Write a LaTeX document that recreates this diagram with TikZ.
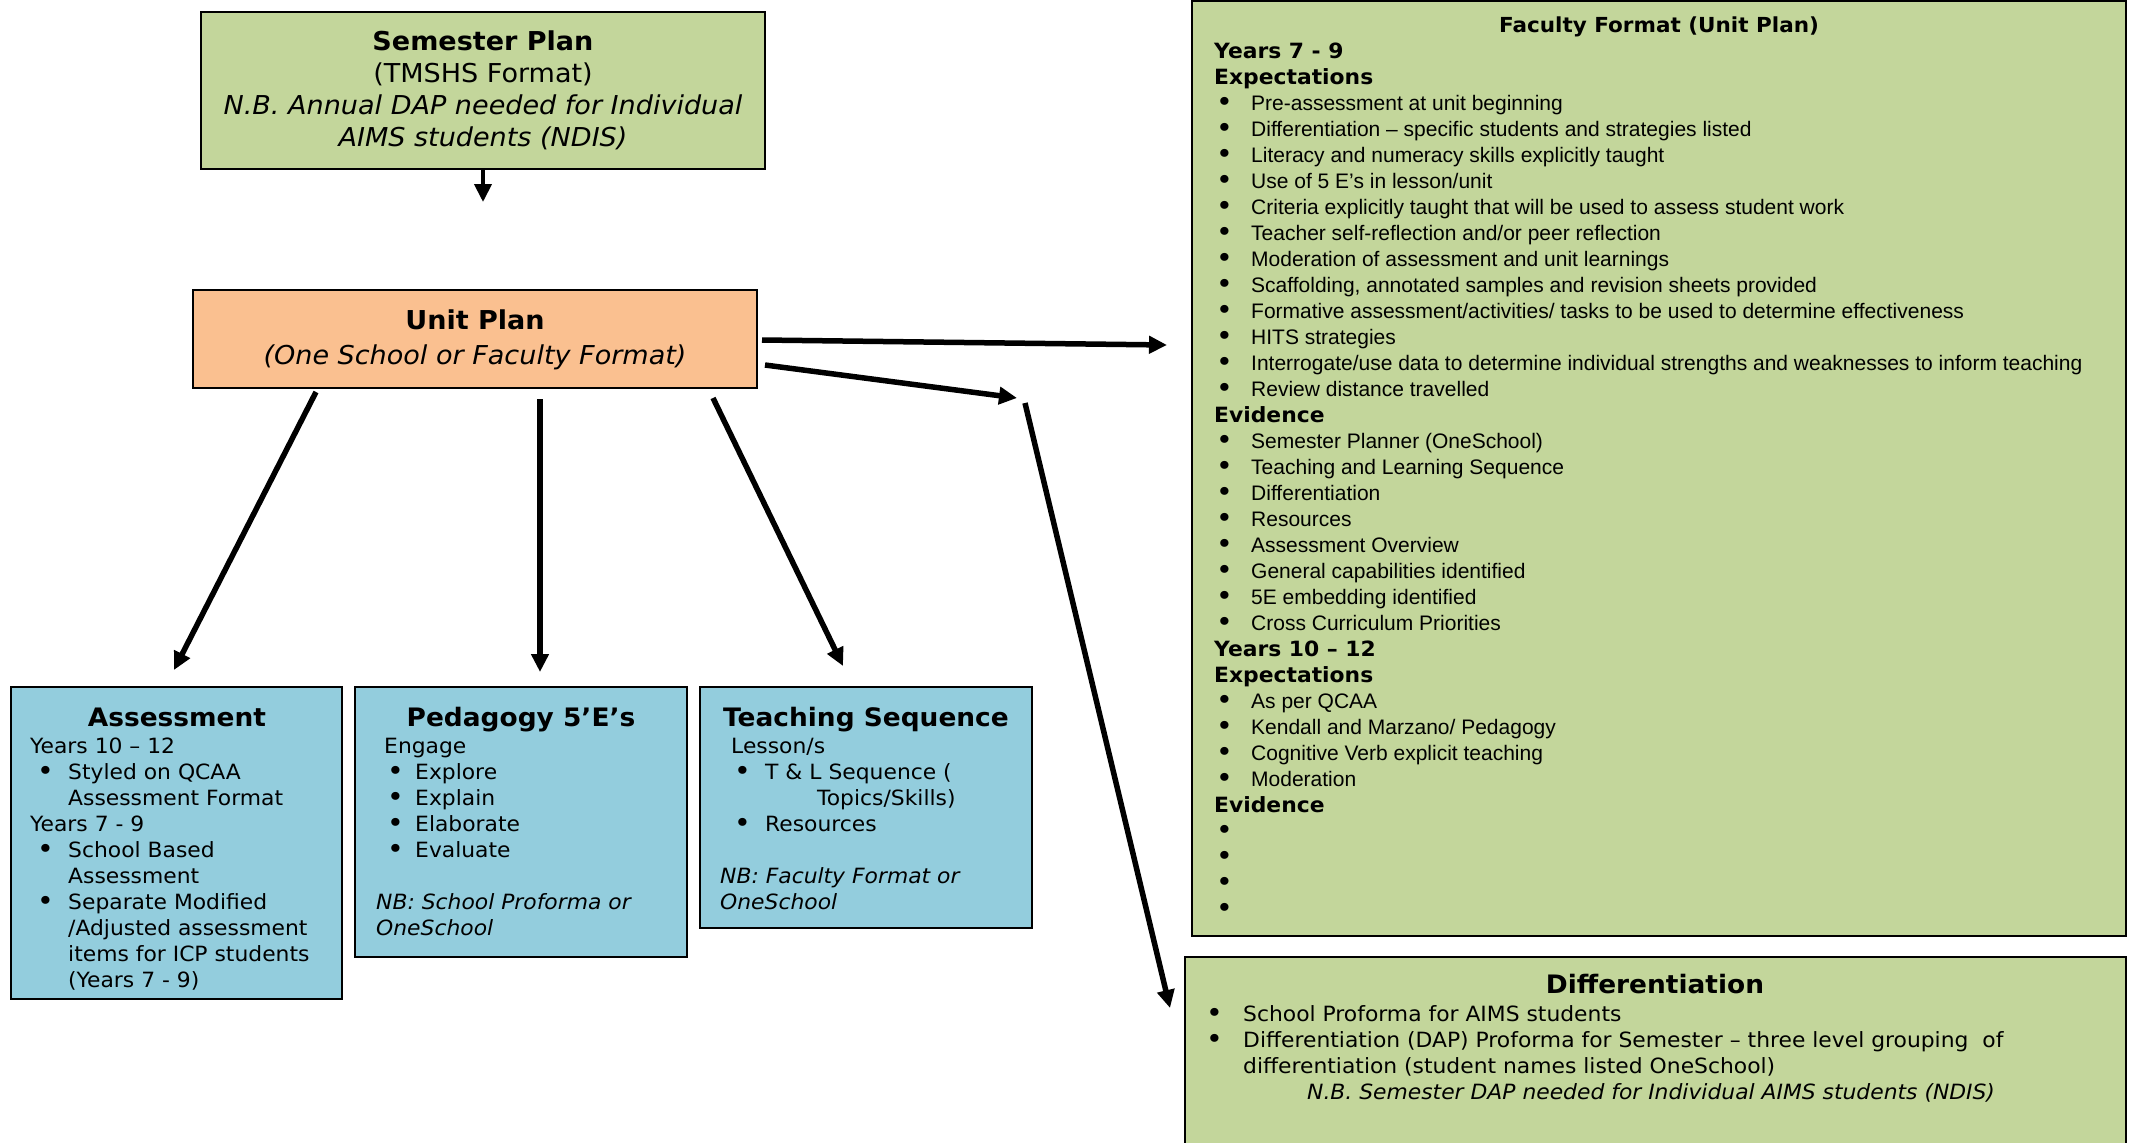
\documentclass[tikz,border=0pt]{standalone}
\usepackage{fontspec}
\setmainfont[FakeStretch=1.04]{DejaVu Sans}
\newfontfamily\arialfont{Liberation Sans}
\usetikzlibrary{arrows.meta}
\definecolor{boxgreen}{HTML}{C3D69B}
\definecolor{boxorange}{HTML}{FAC090}
\definecolor{boxblue}{HTML}{93CDDD}
% bullet with offset and width of the bullet column
\newcommand{\bl}[2]{\hspace*{#1pt}\makebox[#2pt][l]{\raisebox{-0.04em}{\scalebox{1.3}{\textbullet}}}}
\newcommand{\fitem}[1]{\bl{2}{35}{\arialfont #1}}
\begin{document}
\begin{tikzpicture}[x=1pt, y=-1pt,
    box/.style={draw=black, line width=2pt, inner sep=0pt, outer sep=0pt, anchor=north west},
    title/.style={font=\fontsize{25.4}{32}\selectfont\bfseries, anchor=base, inner sep=0pt},
    body/.style={font=\fontsize{21}{26}\selectfont, align=left, anchor=north west, inner sep=0pt},
    arr/.style={line width=5.5pt, -{Triangle[length=18pt, width=17pt]}}]
  \useasboundingbox (0,0) rectangle (2134,1143);

  % Define nodes
  \node[box, fill=boxgreen, minimum width=564pt, minimum height=157pt] (sem) at (201,12) {};
  \node[font=\fontsize{26}{32}\selectfont, align=center, anchor=north, inner sep=0pt] (semText) at (483,27.6)
    {\strut\textbf{Semester Plan}\\(TMSHS Format)\\\textit{N.B. Annual DAP needed for Individual}\\\textit{AIMS students (NDIS)}};

  \node[box, fill=boxorange, minimum width=564pt, minimum height=98pt] (unit) at (193,290) {};
  \node[font=\fontsize{26}{35}\selectfont, align=center, anchor=north, inner sep=0pt] (unitText) at (475,304.5)
    {\strut\textbf{Unit Plan}\\\textit{(One School or Faculty Format)}};

  \node[box, fill=boxblue, minimum width=331pt, minimum height=312pt] (assess) at (11,687) {};
  \node[title] (assessTitle) at (177,726) {Assessment};
  \node[body] (assessText) at (30,734.8)
    {\strut Years 10 – 12\\
     \bl{7}{31}Styled on QCAA\\
     \hspace*{38pt}Assessment Format\\
     Years 7 - 9\\
     \bl{7}{31}School Based\\
     \hspace*{38pt}Assessment\\
     \bl{7}{31}Separate Modified\\
     \hspace*{38pt}/Adjusted assessment\\
     \hspace*{38pt}items for ICP students\\
     \hspace*{38pt}(Years 7 - 9)};

  \node[box, fill=boxblue, minimum width=332pt, minimum height=270pt] (peda) at (355,687) {};
  \node[title] (pedaTitle) at (521,726) {Pedagogy 5’E’s};
  \node[body] (pedaText) at (376,734.8)
    {\strut\hspace*{8pt}Engage\\
     \bl{11}{28}Explore\\
     \bl{11}{28}Explain\\
     \bl{11}{28}Elaborate\\
     \bl{11}{28}Evaluate\\
     \mbox{}\\
     \textit{NB: School Proforma or}\\
     \textit{OneSchool}};

  \node[box, fill=boxblue, minimum width=332pt, minimum height=241pt] (teach) at (700,687) {};
  \node[title] (teachTitle) at (866,726) {Teaching Sequence};
  \node[body] (teachText) at (720,734.8)
    {\strut\hspace*{11pt}Lesson/s\\
     \bl{14}{31}T \& L Sequence (\\
     \hspace*{97pt}Topics/Skills)\\
     \bl{14}{31}Resources\\
     \mbox{}\\
     \textit{NB: Faculty Format or}\\
     \textit{OneSchool}};

  \node[box, fill=boxgreen, minimum width=934pt, minimum height=935pt] (fac) at (1192,1) {};
  \node[title, font=\fontsize{20.7}{26}\selectfont\bfseries] (facTitle) at (1659,32) {Faculty Format (Unit Plan)};
  \node[body] (facText) at (1214,40.3)
    {\strut\textbf{Years 7 - 9}\\
     \textbf{Expectations}\\
     \fitem{Pre-assessment at unit beginning}\\
     \fitem{Differentiation – specific students and strategies listed}\\
     \fitem{Literacy and numeracy skills explicitly taught}\\
     \fitem{Use of 5 E’s in lesson/unit}\\
     \fitem{Criteria explicitly taught that will be used to assess student work}\\
     \fitem{Teacher self-reflection and/or peer reflection}\\
     \fitem{Moderation of assessment and unit learnings}\\
     \fitem{Scaffolding, annotated samples and revision sheets provided}\\
     \fitem{Formative assessment/activities/ tasks to be used to determine effectiveness}\\
     \fitem{HITS strategies}\\
     \fitem{Interrogate/use data to determine individual strengths and weaknesses to inform teaching}\\
     \fitem{Review distance travelled}\\
     \textbf{Evidence}\\
     \fitem{Semester Planner (OneSchool)}\\
     \fitem{Teaching and Learning Sequence}\\
     \fitem{Differentiation}\\
     \fitem{Resources}\\
     \fitem{Assessment Overview}\\
     \fitem{General capabilities identified}\\
     \fitem{5E embedding identified}\\
     \fitem{Cross Curriculum Priorities}\\
     \textbf{Years 10 – 12}\\
     \textbf{Expectations}\\
     \fitem{As per QCAA}\\
     \fitem{Kendall and Marzano/ Pedagogy}\\
     \fitem{Cognitive Verb explicit teaching}\\
     \fitem{Moderation}\\
     \textbf{Evidence}\\
     \fitem{}\\
     \fitem{}\\
     \fitem{}\\
     \fitem{}};

  \node[box, fill=boxgreen, minimum width=941pt, minimum height=210pt] (diff) at (1185,957) {};
  \node[title] (diffTitle) at (1655,993) {Differentiation};
  \node[body] (diffText) at (1206,1002.8)
    {\strut\bl{0}{37}School Proforma for AIMS students\\
     \bl{0}{37}Differentiation (DAP) Proforma for Semester – three level grouping\ \ of\\
     \hspace*{37pt}differentiation (student names listed OneSchool)\\
     \hspace*{101pt}\textit{N.B. Semester DAP needed for Individual AIMS students (NDIS)}};

  % Free ends of the arrows
  \coordinate (semTip) at (483,202);
  \coordinate (facTip) at (1167,345);
  \coordinate (midTip) at (1017,398);
  \coordinate (diffTip) at (1170,1008);
  \coordinate (assessTip) at (174,670);
  \coordinate (pedaTip) at (540,672);
  \coordinate (teachTip) at (843,666);

  % Connect nodes with arrows
  \draw[arr, line width=4pt] (sem.south) -- (semTip);
  \draw[arr] ([shift={(5,1)}]unit.east) -- (facTip);
  \draw[arr] ([shift={(8,26)}]unit.east) -- (midTip);
  \draw[arr] ([shift={(8,5)}]midTip) -- (diffTip);
  \draw[arr] ([shift={(-159,4)}]unit.south) -- (assessTip);
  \draw[arr] ([shift={(65,11)}]unit.south) -- (pedaTip);
  \draw[arr] ([shift={(238,10)}]unit.south) -- (teachTip);
\end{tikzpicture}
\end{document}
